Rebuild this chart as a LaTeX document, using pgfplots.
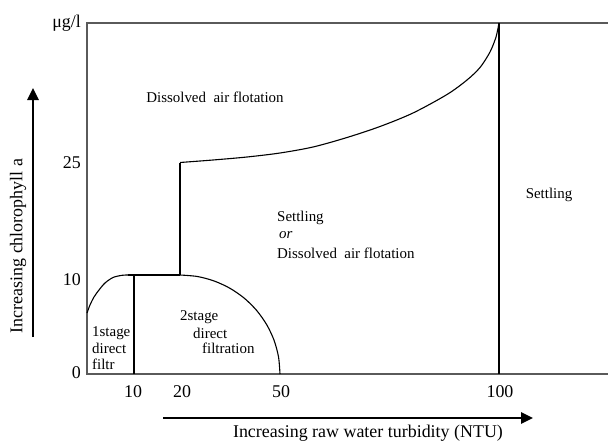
\documentclass[border=0pt]{standalone}
\usepackage{pgfplots}
\pgfplotsset{compat=1.18}
\usepackage{fontspec}
\setmainfont{Liberation Serif}
\usetikzlibrary{arrows.meta}
\definecolor{framegray}{HTML}{5A5A5A}
\newcommand{\bodyfont}{\fontsize{15}{17}\selectfont}
\newcommand{\bigfont}{\fontsize{18}{20}\selectfont}
\begin{document}
\begin{tikzpicture}
\useasboundingbox (0,0) rectangle (608bp,441bp);
\begin{axis}[
  at={(87bp,67bp)}, anchor=south west,
  scale only axis, width=521bp, height=351bp,
  xmin=87, xmax=608, ymin=23, ymax=374, y dir=reverse,
  clip=false,
  axis line style={draw=none},
  xtick={133,182,281,500}, xticklabels={10,20,50,100},
  ytick={23,163,280,373}, yticklabels={μg/l,25,10,0},
  major tick length=0pt,
  tick label style={font=\bigfont, inner sep=0pt},
  xticklabel style={yshift=-11bp},
  yticklabel style={xshift=-6bp},
  /pgf/number format/assume math mode=true,
]
% frame
\draw[framegray, line width=1.8bp] (axis cs:608,23) -- (axis cs:87,23) -- (axis cs:87,374) -- (axis cs:608,374);
% 1-stage boundary
\addplot[black, line width=1.1bp, smooth] coordinates {(87,313) (90,305) (94,297) (99,290) (105,283) (113,277.5) (122,275.3) (128,275)};
\addplot[black, line width=1.1bp] coordinates {(128,275) (180,275)};
% 2-stage boundary
\addplot[black, line width=1.1bp, smooth] coordinates {(180,275) (197.4,276.5) (214.2,281.0) (230,288.3) (244.3,298.2) (256.6,310.4) (266.6,324.5) (274.0,340.1) (278.5,356.8) (280,374)};
\addplot[black, line width=1.1bp] coordinates {(134,275) (134,374)};
\addplot[black, line width=1.1bp] coordinates {(180,275) (180,162.5)};
% DAF / settling boundary
\addplot[black, line width=1.1bp, smooth] coordinates {(180,162.5) (213,160) (247,157) (280,153) (313,147) (347,137.5) (380,126.5) (413,113) (447,94.5) (467,80) (480,67.5) (490,52) (496,37) (499,23)};
\addplot[black, line width=1.1bp] coordinates {(499,23) (499,374)};
% region texts
\node[font=\bodyfont, inner sep=0pt] at (axis cs:215,97) {Dissolved\ \ air flotation};
\node[font=\bodyfont, inner sep=0pt, anchor=west] at (axis cs:277,218) {Settling};
\node[font=\bodyfont, inner sep=0pt, anchor=west] at (axis cs:279,235) {\textit{or}};
\node[font=\bodyfont, inner sep=0pt, anchor=west] at (axis cs:277,253) {Dissolved\ \ air flotation};
\node[font=\bodyfont, inner sep=0pt] at (axis cs:549,195) {Settling};
\node[font=\bodyfont, inner sep=0pt, anchor=west] at (axis cs:92,333) {1stage};
\node[font=\bodyfont, inner sep=0pt, anchor=west] at (axis cs:92,348) {direct};
\node[font=\bodyfont, inner sep=0pt, anchor=west] at (axis cs:92,364) {filtr};
\node[font=\bodyfont, inner sep=0pt, anchor=west] at (axis cs:180,317) {2stage};
\node[font=\bodyfont, inner sep=0pt, anchor=west] at (axis cs:193,333) {direct};
\node[font=\bodyfont, inner sep=0pt, anchor=west] at (axis cs:202,348) {filtration};
% axis labels and arrows
\node[font=\bigfont, rotate=90, inner sep=0pt] at (axis cs:18,246) {Increasing chlorophyll a};
\node[font=\bigfont, inner sep=0pt] at (axis cs:368,433) {Increasing raw water turbidity (NTU)};
\draw[line width=2.5bp, -{Triangle[length=12bp,width=11bp]}] (axis cs:33,337) -- (axis cs:33,88);
\draw[line width=2.5bp, -{Triangle[length=12bp,width=11bp]}] (axis cs:163,418) -- (axis cs:533,418);
\end{axis}
\end{tikzpicture}
\end{document}
